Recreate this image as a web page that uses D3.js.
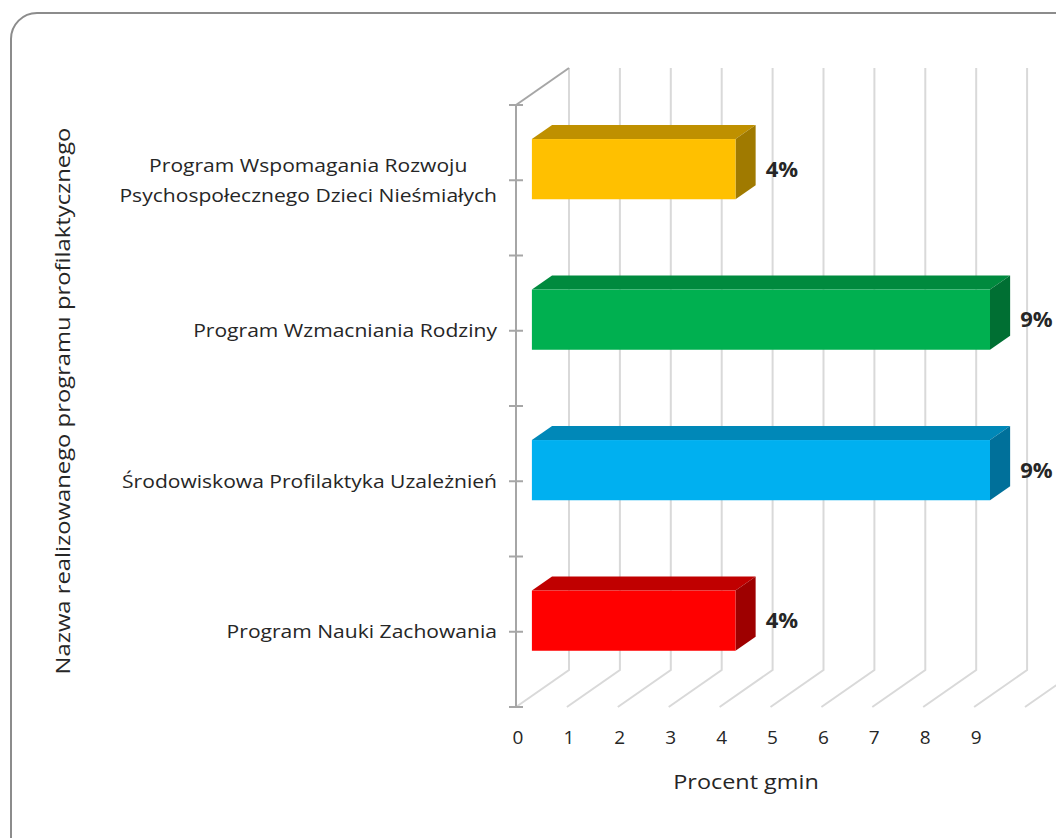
<!DOCTYPE html>
<html>
<head>
<meta charset="utf-8">
<script src="https://cdn.jsdelivr.net/npm/d3@7"></script>
<style>
body { margin: 0; background: #fff; }
text { font-family: "Open Sans", "Liberation Sans", sans-serif; fill: #262626; }
</style>
</head>
<body>
<div id="chart"></div>
<script>
const width = 1056,
height = 838;

// data
const categories = [
  ["Program Wspomagania Rozwoju", "Psychospołecznego Dzieci Nieśmiałych"],
  ["Program Wzmacniania Rodziny"],
  ["Środowiskowa Profilaktyka Uzależnień"],
  ["Program Nauki Zachowania"]
];
const values = [4, 9, 9, 4];
const valueLabels = ["4%", "9%", "9%", "4%"];
const tickLabels = [0, 1, 2, 3, 4, 5, 6, 7, 8, 9];
const gridValues = [0, 1, 2, 3, 4, 5, 6, 7, 8, 9, 10];
const colors = [
  {front: "#ffc000", top: "#bf9000", side: "#a07a00"},
  {front: "#00b050", top: "#008a3e", side: "#006f33"},
  {front: "#00b0f0", top: "#0088b8", side: "#00709a"},
  {front: "#ff0000", top: "#c00000", side: "#9e0000"}
];

// the original font is a bit wider than Open Sans
function widen(stretch) {
  return sel => sel.each(function() {
    const w = this.getComputedTextLength();
    d3.select(this).attr("textLength", w * stretch).attr("lengthAdjust", "spacingAndGlyphs");
  });
}

const svg = d3.select("#chart")
  .append("svg")
  .attr("width", width)
  .attr("height", height);

// chart frame
svg.append("rect")
  .attr("x", 11).attr("y", 13)
  .attr("width", 1080).attr("height", 850)
  .attr("rx", 26)
  .attr("fill", "#fff")
  .attr("stroke", "#8c8c8c")
  .attr("stroke-width", 2);

const x = d3.scaleLinear([0, 10], [516, 1025]);
const keys = d3.range(categories.length);
const y = d3.scaleBand(keys, [105, 707]);

// depth vector (front plane -> back wall)
const dx = 53, dy = -37;
const f1 = 0.3, f2 = 0.68;

// back wall gridlines + floor lines
const grid = svg.append("g")
  .attr("stroke", "#d9d9d9")
  .attr("stroke-width", 2)
  .attr("fill", "none");

grid.selectAll("polyline")
  .data(gridValues)
  .join("polyline")
  .attr("points", d => [
    [x(d) + dx, y.range()[0] + dy],
    [x(d) + dx, y.range()[1] + dy],
    [x(d), y.range()[1]]
  ].join(" "));

// category axis
svg.append("line")
  .attr("x1", x(0)).attr("x2", x(0))
  .attr("y1", y.range()[0]).attr("y2", y.range()[1])
  .attr("stroke", "#a6a6a6").attr("stroke-width", 2);

svg.append("line")
  .attr("x1", x(0)).attr("x2", x(0) + dx)
  .attr("y1", y.range()[0]).attr("y2", y.range()[0] + dy)
  .attr("stroke", "#a6a6a6").attr("stroke-width", 2);

const tickYs = [];
keys.forEach(k => { tickYs.push(y(k)); tickYs.push(y(k) + y.bandwidth() / 2); });
tickYs.push(y.range()[1]);

svg.append("g")
  .selectAll("line")
  .data(tickYs)
  .join("line")
  .attr("x1", x(0) - 7).attr("x2", x(0) + 7)
  .attr("y1", d => d).attr("y2", d => d)
  .attr("stroke", "#a6a6a6").attr("stroke-width", 2);

// bars
const barH = y.bandwidth() * 0.4;
const bars = svg.append("g")
  .selectAll("g")
  .data(keys)
  .join("g");

const yc = k => y(k) + y.bandwidth() / 2;

bars.append("polygon")
  .attr("fill", k => colors[k].top)
  .attr("points", k => {
    const t = yc(k) - barH / 2;
    return [
      [x(0) + f1 * dx, t + f1 * dy],
      [x(values[k]) + f1 * dx, t + f1 * dy],
      [x(values[k]) + f2 * dx, t + f2 * dy],
      [x(0) + f2 * dx, t + f2 * dy]
    ].join(" ");
  });

bars.append("polygon")
  .attr("fill", k => colors[k].side)
  .attr("points", k => {
    const t = yc(k) - barH / 2, b = yc(k) + barH / 2, r = x(values[k]);
    return [
      [r + f1 * dx, t + f1 * dy],
      [r + f2 * dx, t + f2 * dy],
      [r + f2 * dx, b + f2 * dy],
      [r + f1 * dx, b + f1 * dy]
    ].join(" ");
  });

bars.append("rect")
  .attr("fill", k => colors[k].front)
  .attr("x", x(0) + f1 * dx)
  .attr("y", k => yc(k) - barH / 2 + f1 * dy)
  .attr("width", k => x(values[k]) - x(0))
  .attr("height", barH);

// value labels
bars.append("text")
  .attr("x", k => x(values[k]) + f2 * dx + 10)
  .attr("y", k => yc(k) + f1 * dy)
  .attr("dy", "0.35em")
  .attr("font-family", "Liberation Sans, sans-serif")
  .attr("font-size", 22)
  .attr("font-weight", "bold")
  .text(k => valueLabels[k]);

// category labels: lines centered on each other, block right-aligned at the axis
const lineGap = 30;
const labelRight = 497;
keys.forEach(k => {
  const lines = categories[k];
  const g = svg.append("g");
  const texts = g.selectAll("text")
    .data(lines)
    .join("text")
    .attr("font-size", 18)
    .attr("text-anchor", "middle")
    .attr("y", (d, i) => yc(k) + (i - (lines.length - 1) / 2) * lineGap)
    .attr("dy", "0.35em")
    .text(d => d)
    .call(widen(1.17));
  const blockW = d3.max(texts.nodes(), n => +n.getAttribute("textLength"));
  texts.attr("x", labelRight - blockW / 2);
});

// value axis tick labels
svg.append("g")
  .selectAll("text")
  .data(tickLabels)
  .join("text")
  .attr("x", d => x(d) + 2)
  .attr("y", 737)
  .attr("dy", "0.35em")
  .attr("text-anchor", "middle")
  .attr("font-size", 19)
  .text(d => d);

// axis titles
svg.append("text")
  .attr("x", 746)
  .attr("y", 782)
  .attr("dy", "0.35em")
  .attr("text-anchor", "middle")
  .attr("font-size", 20)
  .text("Procent gmin")
  .call(widen(1.17));

svg.append("text")
  .attr("transform", "translate(63,401) rotate(-90)")
  .attr("dy", "0.35em")
  .attr("text-anchor", "middle")
  .attr("font-size", 20)
  .text("Nazwa realizowanego programu profilaktycznego")
  .call(widen(1.19));
</script>
</body>
</html>
